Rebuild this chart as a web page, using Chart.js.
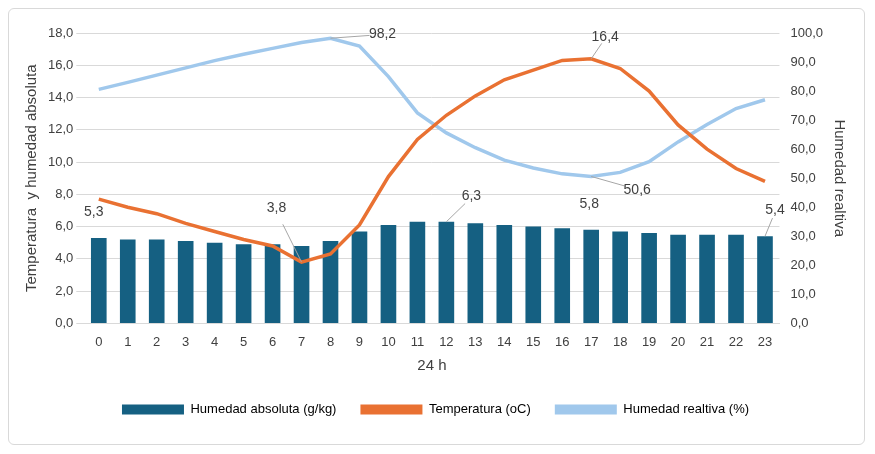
<!DOCTYPE html>
<html><head><meta charset="utf-8">
<script src="https://cdn.jsdelivr.net/npm/chart.js@4/dist/chart.umd.min.js"></script>
<style>body{margin:0;background:#fff}#w{position:absolute;left:8px;top:8px;width:857px;height:437px;border:1px solid #d9d9d9;border-radius:6px;box-sizing:border-box}canvas{display:block}</style>
</head><body><div id="w"><canvas id="c" width="855" height="435"></canvas></div>
<script>
const hours=["0","1","2","3","4","5","6","7","8","9","10","11","12","13","14","15","16","17","18","19","20","21","22","23"];
const humAbs=[5.3,5.2,5.2,5.1,5.0,4.9,4.9,4.8,5.1,5.7,6.1,6.3,6.3,6.2,6.1,6.0,5.9,5.8,5.7,5.6,5.5,5.5,5.5,5.4];
const temp=[7.7,7.2,6.8,6.2,5.7,5.2,4.8,3.8,4.3,6.1,9.1,11.4,12.9,14.1,15.1,15.7,16.3,16.4,15.8,14.4,12.3,10.8,9.6,8.8];
const humRel=[80.6,83.0,85.5,88.0,90.5,92.7,94.7,96.7,98.2,95.5,85.0,72.5,65.6,60.5,56.2,53.5,51.5,50.6,52.0,55.7,62.5,68.5,74.0,77.0];
const fmt=v=>v.toFixed(1).replace('.',',');
const notes=[[0,0,-5,-26,false],[1,7,-25,-54,true],[0,12,25,-26,true],[0,17,-2,-26,false],[0,23,10,-26,true],[1,17,14,-22,true],[2,8,52,-4,true],[2,17,46,14,true]];
const labelPlugin={id:'lbl',afterDatasetsDraw(ch){const c=ch.ctx;c.save();c.font='14px "Liberation Sans", Arial';c.fillStyle='#404040';c.strokeStyle='#a6a6a6';c.lineWidth=1;c.textAlign='center';c.textBaseline='middle';
const src=[humAbs,temp,humRel];
for(const [d,i,dx,dy,lead] of notes){const el=ch.getDatasetMeta(d).data[i];const x=el.x,y=el.y;
if(lead){c.beginPath();c.moveTo(x,y);c.lineTo(x+dx*0.75,y+dy*0.7);c.stroke();}
c.fillText(fmt(src[d][i]),x+dx,y+dy);}c.restore();}};
new Chart(document.getElementById('c'),{data:{labels:hours,datasets:[
{type:'bar',label:'Humedad absoluta (g/kg)',data:humAbs,backgroundColor:'#156082',yAxisID:'y',barPercentage:0.6,categoryPercentage:0.9,order:3},
{type:'line',label:'Temperatura (oC)',data:temp,borderColor:'#e97132',backgroundColor:'#e97132',borderWidth:3.5,pointRadius:0,yAxisID:'y',order:1,tension:0},
{type:'line',label:'Humedad realtiva (%)',data:humRel,borderColor:'#a0c8ec',backgroundColor:'#a0c8ec',borderWidth:3.5,pointRadius:0,yAxisID:'y1',order:2,tension:0}]},
plugins:[labelPlugin],
options:{responsive:false,animation:false,devicePixelRatio:1,layout:{padding:{left:10,right:12,top:24,bottom:18}},
plugins:{tooltip:{enabled:false},legend:{position:'bottom',labels:{color:'#404040',font:{size:13,family:'"Liberation Sans", Arial'},boxWidth:62,boxHeight:10,padding:24,
generateLabels(ch){return ch.data.datasets.map((d,i)=>({text:d.label,fillStyle:d.backgroundColor,strokeStyle:d.backgroundColor,lineWidth:0,datasetIndex:i}));}}}},
scales:{x:{grid:{display:false},border:{color:'#d9d9d9'},ticks:{color:'#404040',font:{size:13},maxRotation:0,autoSkip:false},title:{display:true,text:'24 h',color:'#404040',font:{size:15}}},
y:{min:0,max:18,ticks:{stepSize:1,color:'#404040',font:{size:13},callback:fmt},grid:{color:'#d9d9d9'},border:{display:false},title:{display:true,text:'Temperatura  y humedad absoluta',color:'#404040',font:{size:15}}},
y1:{position:'right',min:0,max:100,ticks:{stepSize:10,color:'#404040',font:{size:13},callback:fmt},grid:{display:false},border:{display:false},title:{display:true,text:'Humedad realtiva',color:'#404040',font:{size:15}}}}}});
</script>
</body></html>
